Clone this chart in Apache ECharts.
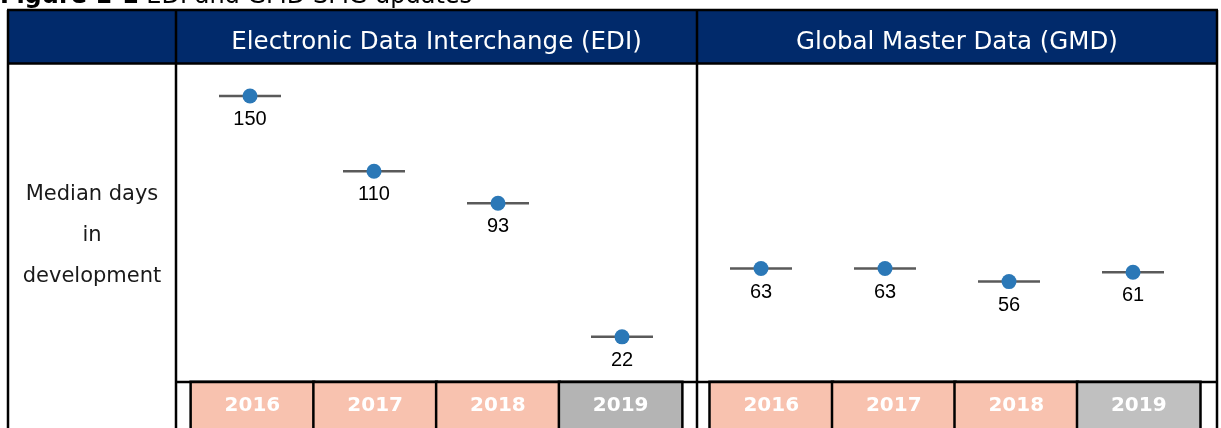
<!DOCTYPE html>
<html>
<head>
<meta charset="utf-8">
<script src="https://cdn.jsdelivr.net/npm/echarts@6/dist/echarts.min.js"></script>
<style>
  html, body { margin: 0; padding: 0; background: #fff; }
  #chart { width: 1221px; height: 428px; }
</style>
</head>
<body>
<div id="chart"></div>
<script>
// data
const years = ['2016', '2017', '2018', '2019'];
const ediDays = [150, 110, 93, 22];
const gmdDays = [63, 63, 56, 61];
const panelTitles = ['Electronic Data Interchange (EDI)', 'Global Master Data (GMD)'];
const rowLabel = 'Median days\nin\ndevelopment';

const NAVY = '#012a6b';
const SALMON = '#f8c2af';
const DOT = '#2b78b7';

function yearRich(grey) {
  const box = {
    color: '#fff',
    fontFamily: 'DejaVu Sans',
    fontWeight: 'bold',
    fontSize: 20,
    width: 121,
    height: 46,
    lineHeight: 46,
    align: 'center',
    borderColor: '#000',
    borderWidth: 2.5
  };
  return {
    a: Object.assign({}, box, { backgroundColor: SALMON }),
    g: Object.assign({}, box, { backgroundColor: grey })
  };
}

function yearAxis(gridIndex, grey) {
  return {
    type: 'category',
    gridIndex: gridIndex,
    data: years,
    axisLine: { show: false },
    axisTick: { show: false },
    axisLabel: {
      interval: 0,
      margin: 1,
      formatter: v => v === '2019' ? '{g|' + v + '}' : '{a|' + v + '}',
      rich: yearRich(grey)
    }
  };
}

function pointAxis(gridIndex) {
  return {
    type: 'category',
    gridIndex: gridIndex,
    data: years,
    show: false
  };
}

function hiddenY(gridIndex, min, max) {
  return { type: 'value', gridIndex: gridIndex, min: min, max: max, show: false };
}

function tickSeries(axisIndex, data) {
  return {
    type: 'scatter',
    xAxisIndex: axisIndex,
    yAxisIndex: axisIndex,
    data: data,
    symbol: 'rect',
    symbolSize: [62, 2.5],
    itemStyle: { color: '#5a5a5a', opacity: 1 },
    silent: true,
    z: 2
  };
}

function dotSeries(axisIndex, data) {
  return {
    type: 'scatter',
    xAxisIndex: axisIndex,
    yAxisIndex: axisIndex,
    data: data,
    symbol: 'circle',
    symbolSize: 15,
    itemStyle: { color: DOT, opacity: 1 },
    label: {
      show: true,
      position: 'bottom',
      distance: 6,
      formatter: p => p.value,
      color: '#000',
      fontFamily: 'Liberation Sans',
      fontSize: 20
    },
    z: 3
  };
}

function line(x1, y1, x2, y2) {
  return {
    type: 'line',
    shape: { x1: x1, y1: y1, x2: x2, y2: y2 },
    style: { stroke: '#000', lineWidth: 2.5 },
    z: 100
  };
}

const chart = echarts.init(document.getElementById('chart'));

const option = {
  animation: false,
  grid: [
    { left: 188, width: 496, top: 64, height: 318, outerBoundsMode: 'none' },   // EDI points
    { left: 191, width: 491, top: 64, height: 318, outerBoundsMode: 'none' },   // EDI year boxes
    { left: 699, width: 496, top: 64, height: 318, outerBoundsMode: 'none' },   // GMD points
    { left: 710, width: 490, top: 64, height: 318, outerBoundsMode: 'none' }    // GMD year boxes
  ],
  xAxis: [
    pointAxis(0),
    yearAxis(1, '#b4b4b4'),
    pointAxis(2),
    yearAxis(3, '#c0c0c0')
  ],
  yAxis: [
    hiddenY(0, -2, 167),
    hiddenY(1, 0, 1),
    hiddenY(2, 2, 173),
    hiddenY(3, 0, 1)
  ],
  series: [
    tickSeries(0, ediDays),
    dotSeries(0, ediDays),
    tickSeries(2, gmdDays),
    dotSeries(2, gmdDays)
  ],
  graphic: [
    {
      type: 'text',
      left: 0,
      top: -15,
      style: {
        text: '{b|Figure 1-1} EDI and GMD SMG updates',
        fontFamily: 'DejaVu Sans',
        fontSize: 24,
        fill: '#000',
        rich: { b: { fontWeight: 'bold', fontSize: 24, fontFamily: 'DejaVu Sans' } }
      }
    },
    {
      type: 'rect',
      shape: { x: 8, y: 10, width: 1209, height: 53 },
      style: { fill: NAVY },
      z: 1
    },
    {
      type: 'text',
      x: 436.5,
      y: 43,
      style: {
        text: panelTitles[0],
        fill: '#fff',
        fontFamily: 'DejaVu Sans',
        fontSize: 24.5,
        align: 'center',
        verticalAlign: 'middle'
      },
      z: 5
    },
    {
      type: 'text',
      x: 957,
      y: 43,
      style: {
        text: panelTitles[1],
        fill: '#fff',
        fontFamily: 'DejaVu Sans',
        fontSize: 24.5,
        align: 'center',
        verticalAlign: 'middle'
      },
      z: 5
    },
    {
      type: 'text',
      x: 92,
      y: 236,
      style: {
        text: rowLabel,
        fill: '#1a1a1a',
        fontFamily: 'DejaVu Sans',
        fontSize: 21,
        lineHeight: 41,
        align: 'center',
        verticalAlign: 'middle'
      },
      z: 5
    },
    line(7, 10, 1218, 10),
    line(8, 10, 8, 428),
    line(1217, 10, 1217, 428),
    line(8, 63.5, 1217, 63.5),
    line(176, 10, 176, 428),
    line(697, 10, 697, 428),
    line(176, 382, 1217, 382)
  ]
};

chart.setOption(option);
window.addEventListener('resize', () => chart.resize());
</script>
</body>
</html>
